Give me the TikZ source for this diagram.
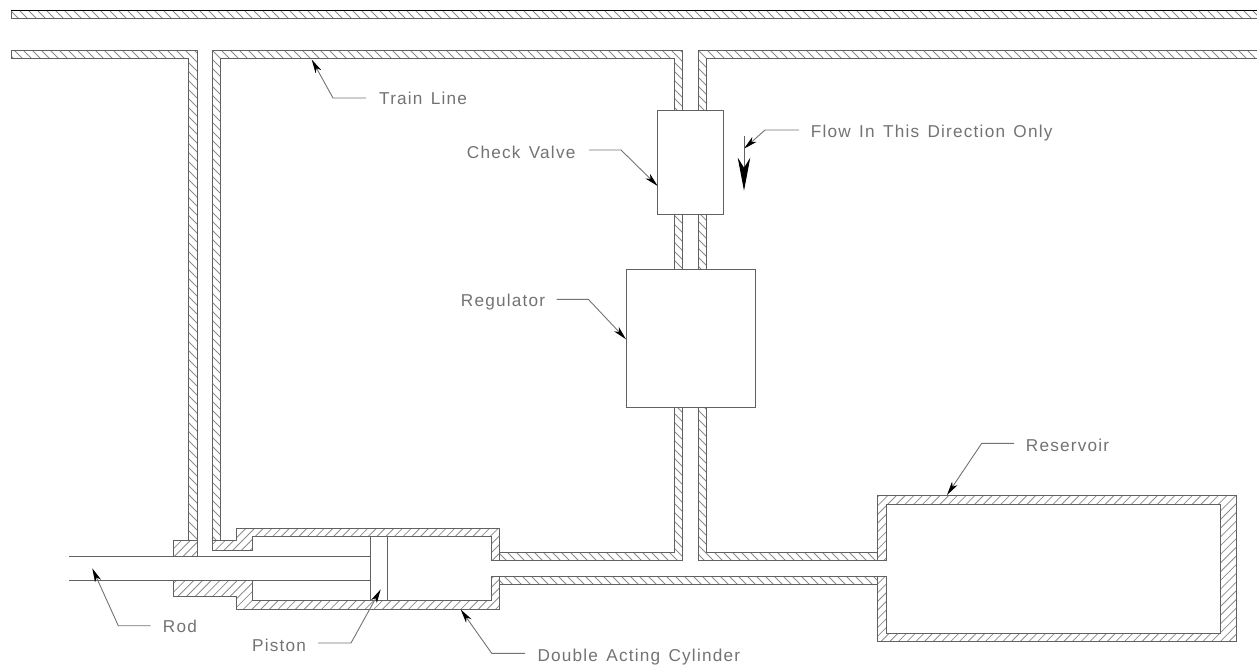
\documentclass[tikz,border=0pt]{standalone}
\usepackage{fontspec}
\setmainfont{Liberation Sans}[LetterSpace=7,WordSpace=1.4]
\usetikzlibrary{arrows.meta}
\definecolor{wall}{gray}{0.38}
\definecolor{hatchc}{gray}{0.55}
\definecolor{labelc}{gray}{0.45}
\newcommand{\hatchback}[1]{%
  \begin{scope}\clip #1;
    \foreach \k in {-666,-657,...,1257}{\draw[hatchline] (\k,0) -- (\k+666,666);}
  \end{scope}
  \draw[outline] #1;}
\newcommand{\hatchfwd}[1]{%
  \begin{scope}\clip #1;
    \foreach \k in {0,8.7,...,1930}{\draw[hatchline] (\k,0) -- (\k-666,666);}
  \end{scope}
  \draw[outline] #1;}
\tikzset{
  hatchline/.style={hatchc,line width=0.8pt},
  outline/.style={wall,line width=1pt,line join=miter},
  box/.style={draw=wall,line width=1pt,fill=white,inner sep=0pt},
  plain/.style={wall,line width=1pt},
  leader/.style={labelc,line width=0.9pt,-{Stealth[length=14pt,width=6.5pt,inset=4pt,black]}},
  lab/.style={text=labelc,font=\fontsize{17.2}{18}\selectfont,inner sep=0pt,anchor=base west},
}
\begin{document}
\begin{tikzpicture}[x=1pt,y=-1pt]
\useasboundingbox (0,0) rectangle (1257,666);
% train line pipes
\hatchback{(11,10.7) -- (1257,10.7) -- (1257,18.3) -- (11,18.3) -- cycle}
\coordinate (topL) at (11,10.7);
\coordinate (topR) at (1257,10.7);
\draw[black,line width=1pt] (topL) -- (topR);
\hatchback{(11,51) -- (197.5,51) -- (197.5,540) -- (188.5,540) -- (188.5,59) -- (11,59) -- cycle}
\hatchback{(212.7,540) -- (212.7,51) -- (682.5,51) -- (682.5,111) -- (674,111) -- (674,59) -- (220.7,59) -- (220.7,540) -- cycle}
\hatchback{(698.3,111) -- (698.3,51) -- (1257,51) -- (1257,59) -- (706.7,59) -- (706.7,111) -- cycle}
\hatchback{(674,214) -- (682.5,214) -- (682.5,269.5) -- (674,269.5) -- cycle}
\hatchback{(698.3,214) -- (706.7,214) -- (706.7,269.5) -- (698.3,269.5) -- cycle}
\hatchback{(674,407) -- (682.5,407) -- (682.5,560.7) -- (499.3,560.7) -- (499.3,552.7) -- (674,552.7) -- cycle}
\hatchback{(698.3,407) -- (706.7,407) -- (706.7,552.7) -- (877.3,552.7) -- (877.3,560.7) -- (698.3,560.7) -- cycle}
\hatchback{(499.3,576) -- (877.3,576) -- (877.3,584.7) -- (499.3,584.7) -- cycle}
% reservoir
\hatchfwd{(877.3,495.3) -- (1236.7,495.3) -- (1236.7,641.7) -- (877.3,641.7) -- (877.3,576) -- (886,576) -- (886,633.3) -- (1220,633.3) -- (1220,504.3) -- (886,504.3) -- (886,560.7) -- (877.3,560.7) -- cycle}
% cylinder
\hatchfwd{(212.7,540) -- (236,540) -- (236,528.3) -- (499.3,528.3) -- (499.3,560.7) -- (491,560.7) -- (491,536.7) -- (252.3,536.7) -- (252.3,550.7) -- (212.7,550.7) -- cycle}
\hatchfwd{(173,580.7) -- (252.3,580.7) -- (252.3,600.7) -- (491,600.7) -- (491,576) -- (499.3,576) -- (499.3,609.3) -- (236,609.3) -- (236,596.7) -- (173,596.7) -- cycle}
\hatchfwd{(173,540) -- (197.5,540) -- (197.5,556) -- (173,556) -- cycle}
% rod and piston
\node[box,minimum width=16.6pt,minimum height=64pt] (piston) at (379,568.7) {};
\coordinate (rodAl) at (69,556);
\coordinate (rodAr) at (370.7,556);
\coordinate (rodBl) at (69,580.7);
\coordinate (rodBr) at (370.7,580.7);
\draw[plain] (rodAl) -- (rodAr);
\draw[plain] (rodBl) -- (rodBr);
% valve and regulator
\node[box,minimum width=65.6pt,minimum height=103pt] (valve) at (690.5,162.5) {};
\node[box,minimum width=129.3pt,minimum height=137.8pt] (regulator) at (690.65,338.4) {};
% labels
\node[lab] (ltrain) at (379,104.5) {Train Line};
\node[lab] (lcheck) at (466.7,158) {Check Valve};
\node[lab] (lflow) at (810.7,137.7) {Flow In This Direction Only};
\node[lab] (lreg) at (460.7,306.7) {Regulator};
\node[lab] (lres) at (1025.7,451.7) {Reservoir};
\node[lab] (lrod) at (162.7,632.7) {Rod};
\node[lab] (lpiston) at (252,651) {Piston};
\node[lab] (ldouble) at (537.3,661) {Double Acting Cylinder};
% leader tips
\coordinate (ttrain) at (311.7,59.5);
\coordinate (tcheck) at (657.7,186);
\coordinate (tflow) at (744,148.7);
\coordinate (treg) at (626,339.3);
\coordinate (tres) at (947,495);
\coordinate (trod) at (92.3,568.3);
\coordinate (tpiston) at (380.7,589.3);
\coordinate (tdouble) at (460.7,609.5);
% leader tails and bends
\coordinate (strain) at (366,98);      \coordinate (btrain) at (333,98);
\coordinate (scheck) at (589,150);     \coordinate (bcheck) at (621,150);
\coordinate (sflow) at (799,130);      \coordinate (bflow) at (765,130);
\coordinate (sreg) at (556.7,299.3);   \coordinate (breg) at (588.3,299.3);
\coordinate (sres) at (1014,443.3);    \coordinate (bres) at (981.7,443.3);
\coordinate (srod) at (150.7,625.7);   \coordinate (brod) at (118.3,625.7);
\coordinate (spiston) at (318,643);    \coordinate (bpiston) at (351,643);
\coordinate (sdouble) at (525,653.3);  \coordinate (bdouble) at (491.7,653.3);
\draw[leader] (strain) -- (btrain) -- (ttrain);
\draw[leader] (scheck) -- (bcheck) -- (tcheck);
\draw[leader] (sflow) -- (bflow) -- (tflow);
\draw[leader] (sreg) -- (breg) -- (treg);
\draw[leader] (sres) -- (bres) -- (tres);
\draw[leader] (srod) -- (brod) -- (trod);
\draw[leader] (spiston) -- (bpiston) -- (tpiston);
\draw[leader] (sdouble) -- (bdouble) -- (tdouble);
% flow direction arrow
\coordinate (fs) at (744,136);
\coordinate (fe) at (744,190.7);
\draw[plain,-{Stealth[length=33pt,width=12.5pt,inset=10pt,black]}] (fs) -- (fe);
\end{tikzpicture}
\end{document}
